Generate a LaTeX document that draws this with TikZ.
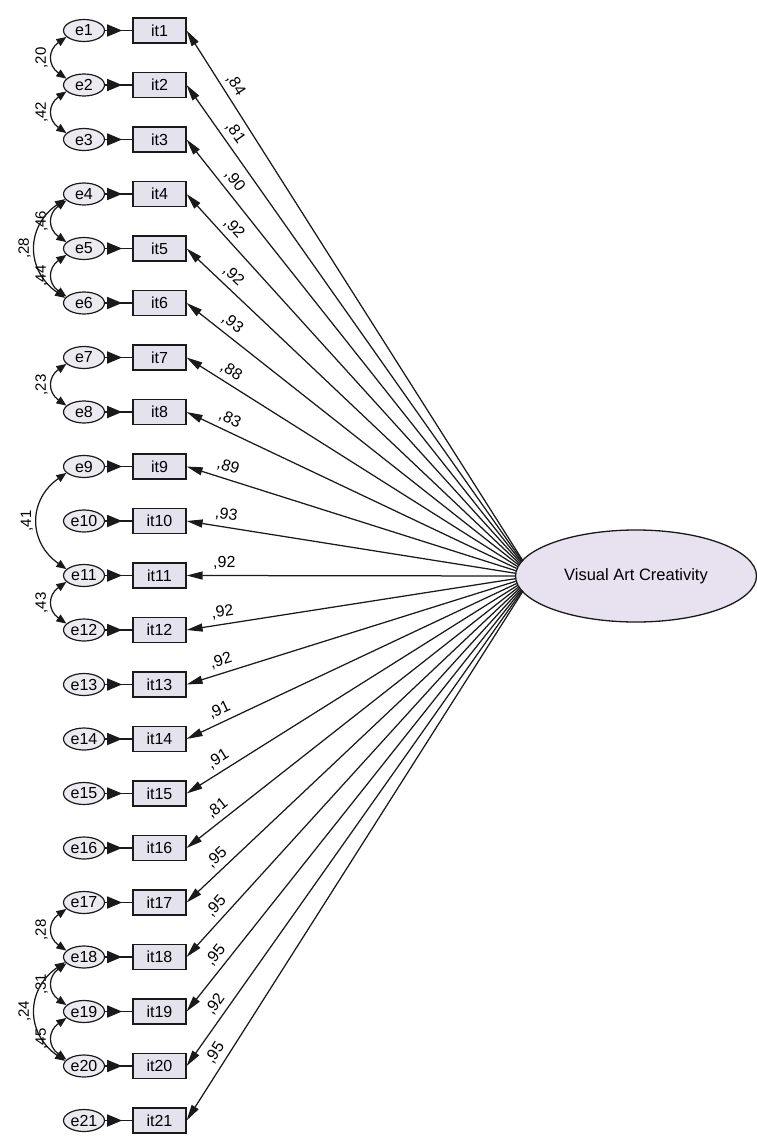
\documentclass[tikz,border=0pt]{standalone}
\usepackage{fontspec}
\setmainfont{Liberation Sans}
\usetikzlibrary{arrows.meta,shapes.geometric,decorations.markings}
\definecolor{boxfill}{HTML}{E4E2EC}
\definecolor{efill}{HTML}{ECEAF0}
\definecolor{lvfill}{HTML}{E7E1F0}
\definecolor{ink}{HTML}{1A1A1A}
\begin{document}
\begin{tikzpicture}[x=1pt,y=1pt,
  itembox/.style={draw=ink,fill=boxfill,line width=1.2pt,minimum width=53pt,minimum height=25pt,inner sep=0pt,font=\fontsize{16}{16}\selectfont},
  errnode/.style={draw=ink,fill=efill,ellipse,line width=1.2pt,minimum width=41pt,minimum height=22pt,inner sep=0pt,font=\fontsize{16}{16}\selectfont},
  latent/.style={draw=ink,fill=lvfill,ellipse,line width=1.3pt,minimum width=241pt,minimum height=92pt,inner sep=0pt,font=\fontsize{16.5}{16.5}\selectfont},
  hub/.style={circle,minimum size=35pt,inner sep=0pt},
  load/.style={draw=ink,line width=1.25pt,-{Triangle[length=16pt,width=8pt]}},
  loadlab/.style={sloped,above=4pt,font=\fontsize{16}{16}\selectfont,inner sep=1pt},
  errarr/.style={draw=ink,line width=1.8pt,postaction={decorate},decoration={markings,mark=at position 17pt with {\arrow{Triangle[length=15pt,width=12pt]}}}},
  cov/.style={draw=ink,line width=1.25pt,{Triangle[length=10pt,width=8pt]}-{Triangle[length=10pt,width=8pt]}},
  covsmall/.style={out=215,in=145,looseness=1.4},
  covbig/.style={out=215,in=145,looseness=1.25},
  covlab/.style={rotate=90,anchor=south,inner sep=4pt,font=\fontsize{15}{15}\selectfont},
]
\useasboundingbox (0,0) rectangle (757,-1140);
\fill[white] (0,0) rectangle (757,-1140);

% latent variable
\node[latent] (F) at (636,-576) {Visual Art Creativity};
\node[hub] (fc) at (532.6,-576) {};

% items and errors
\foreach \i in {1,...,21}{
  \pgfmathsetmacro{\yy}{-30.5-(\i-1)*54.5}
  \node[itembox] (it\i) at (159.5,\yy) {it\i};
  \node[errnode] (e\i) at (84,\yy) {e\i};
  \draw[errarr] (e\i) -- (it\i);
}

% loadings
\foreach \i/\v in {1/84,2/81,3/90,4/92,5/92,6/93,7/88,8/83,9/89,10/93,11/92,12/92,13/92,14/91,15/91,16/81,17/95,18/95,19/95,20/92,21/95}{
  \draw[load] (fc) -- node[loadlab,pos=0.885] {,\v} (it\i.east);
}

% covariances
\draw[cov] (e1.200) to[covsmall] node[pos=0.5,covlab] {,20} (e2.160);
\draw[cov] (e2.200) to[covsmall] node[pos=0.5,covlab] {,42} (e3.160);
\draw[cov] (e4.200) to[covsmall] node[pos=0.5,covlab] {,46} (e5.160);
\draw[cov] (e4.195) to[covbig] node[pos=0.5,covlab] {,28} (e6.165);
\draw[cov] (e5.200) to[covsmall] node[pos=0.5,covlab] {,44} (e6.160);
\draw[cov] (e7.200) to[covsmall] node[pos=0.5,covlab] {,23} (e8.160);
\draw[cov] (e9.200) to[covbig] node[pos=0.5,covlab] {,41} (e11.160);
\draw[cov] (e11.200) to[covsmall] node[pos=0.5,covlab] {,43} (e12.160);
\draw[cov] (e17.200) to[covsmall] node[pos=0.5,covlab] {,28} (e18.160);
\draw[cov] (e18.200) to[covsmall] node[pos=0.5,covlab] {,31} (e19.160);
\draw[cov] (e18.195) to[covbig] node[pos=0.5,covlab] {,24} (e20.165);
\draw[cov] (e19.200) to[covsmall] node[pos=0.5,covlab] {,45} (e20.160);
\end{tikzpicture}
\end{document}
